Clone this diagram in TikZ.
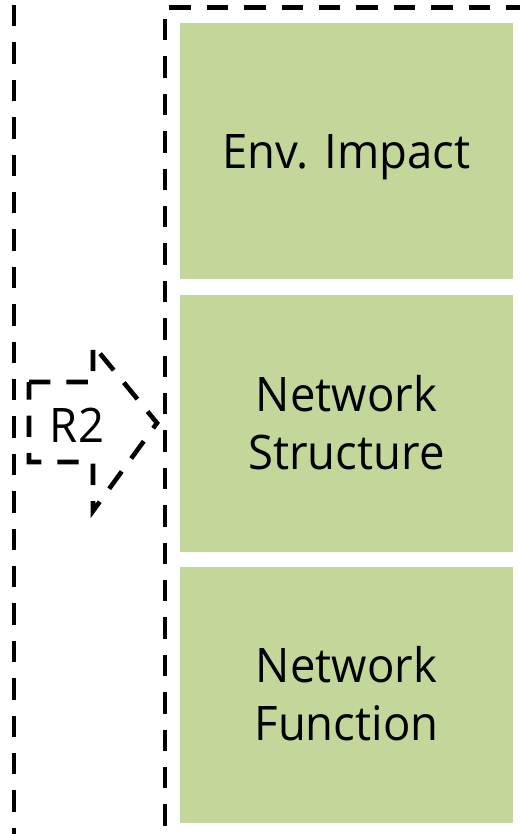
\documentclass[tikz,border=0pt]{standalone}
\usepackage{fontspec}
\setmainfont{Open Sans}[FakeStretch=0.955]
\begin{document}
\begin{tikzpicture}[x=1pt,y=-1pt,
  dashline/.style={line width=4.6pt,dash pattern=on 21.4pt off 16pt},
  box/.style={fill=boxgreen,draw=none,minimum width=333pt,minimum height=256.3pt,
    inner sep=0pt,align=center,text height=34pt,text depth=0pt,
    font=\fontsize{47.6}{58}\selectfont},
  twoline/.style={text height=92pt,text depth=0pt},
  lbl/.style={inner sep=0pt,font=\fontsize{47.6}{58}\selectfont}]
\definecolor{boxgreen}{RGB}{196,215,155}
\useasboundingbox (0,0) rectangle (519,834);

% outer dashed frames (running past the page edges)
\coordinate (ltop) at (14,0);
\coordinate (lbot) at (14,840);
\draw[dashline,dash phase=32.4pt] (ltop) -- (lbot);
\coordinate (fbot) at (164.8,840);
\coordinate (fcorner) at (164.8,7.5);
\coordinate (fright) at (530,7.5);
\draw[dashline,dash phase=25.9pt] (fcorner) -- (fbot);
\draw[dashline,dash phase=32.9pt] (fcorner) -- (fright);

% stacked green blocks
\node[box] (env) at (346.5,151.2) {Env. Impact};
\node[box,twoline] (struct) at (346.5,423.5) {Network\\Structure};
\node[box,twoline] (func) at (346.5,694.8) {Network\\Function};

% dashed block arrow labelled R2
\coordinate (a1) at (29,382);
\coordinate (a2) at (93,382);
\coordinate (a3) at (93,345);
\coordinate (a4) at (157,423);
\coordinate (a5) at (93,511);
\coordinate (a6) at (93,462);
\coordinate (a7) at (29,462);
\draw[dashline,line join=miter] (a1) -- (a2) -- (a3) -- (a4) -- (a5) -- (a6) -- (a7) -- cycle;
\node[lbl,anchor=base] (r2) at (77,442) {R2};
\end{tikzpicture}
\end{document}
